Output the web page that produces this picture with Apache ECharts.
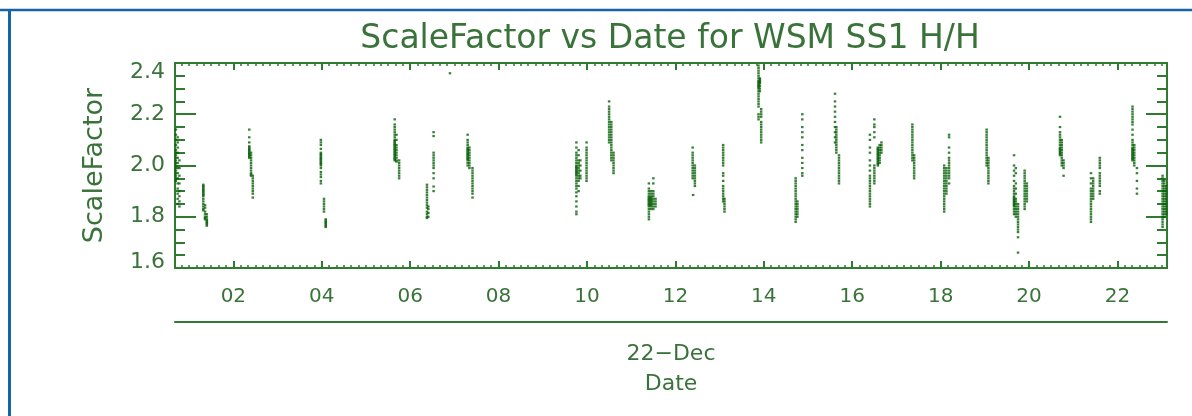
<!DOCTYPE html>
<html>
<head>
<meta charset="utf-8">
<script src="https://cdn.jsdelivr.net/npm/echarts@6/dist/echarts.min.js"></script>
<style>
html,body{margin:0;padding:0;background:#fff;}
#chart{width:1192px;height:416px;}
</style>
</head>
<body>
<div id="chart"></div>
<script>
// ---- Data (x = day of December 2022, fractional; y = ScaleFactor) ----
const titleText = 'ScaleFactor vs Date for WSM SS1 H/H';
const yName = 'ScaleFactor';
const xName = '22\u2212Dec\nDate';
const xTickLabels = ['02','04','06','08','10','12','14','16','18','20','22'];
const xTickDays = [2,4,6,8,10,12,14,16,18,20,22];
const yTickLabels = ['1.6','1.8','2.0','2.2','2.4'];

const streakDay = [
  0.70, 0.74, 0.78,
  1.32, 1.36, 1.40,
  2.36, 2.40, 2.44,
  3.98, 4.05, 4.09,
  5.65, 5.69, 5.75,
  6.38, 6.41, 6.53,
  6.90,
  7.30, 7.34, 7.41,
  9.76, 9.81, 9.85, 9.99,
  10.50, 10.55, 10.60,
  11.40, 11.45, 11.50, 11.55,
  12.39, 12.44, 12.40,
  13.08, 13.11,
  13.88, 13.91, 13.94,
  14.87, 14.72, 14.76,
  15.61, 15.64, 15.70,
  16.40, 16.50, 16.58, 16.62, 16.66,
  17.36, 17.40,
  18.08, 18.13, 18.19,
  19.04, 19.08,
  19.66, 19.70, 19.75, 19.90, 19.95,
  20.70, 20.74, 20.78,
  21.40, 21.45, 21.60,
  22.34, 22.38, 22.44,
  23.02, 23.06, 23.10
];
const streakValues = [
  [2.14,2.12,2.10,2.08,2.06,2.05,2.04,2.03,2.02,2.01,2.00,1.99,1.98,1.97,1.96,1.95,1.94],
  [2.11,2.09,2.07,2.05,2.03,2.01,1.99,1.97,1.95,1.93,1.91,1.89,1.87,1.85],
  [2.02,1.99,1.96,1.93,1.90,1.88,1.86,1.84],
  [1.925,1.92,1.915,1.91,1.905,1.90,1.895,1.89,1.885,1.88,1.87,1.86,1.85,1.84,1.83,1.825],
  [1.845,1.835,1.82,1.81,1.80,1.795,1.79],
  [1.81,1.80,1.79,1.785,1.78,1.775,1.77,1.765],
  [2.14,2.11,2.09,2.075,2.07,2.065,2.06,2.055,2.05,2.045,2.04,2.035,2.03],
  [2.05,2.04,2.03,2.02,2.01,2.00,1.99,1.98,1.97,1.965,1.96],
  [1.96,1.95,1.94,1.93,1.92,1.91,1.90,1.89,1.875],
  [2.10,2.09,2.08,2.065,2.05,2.045,2.04,2.035,2.03,2.025,2.02,2.015,2.01,2.005,2.00,1.99,1.975,1.965,1.955,1.94,1.93],
  [1.87,1.86,1.85,1.84,1.83,1.82],
  [1.79,1.785,1.78,1.775,1.77,1.765,1.76],
  [2.18,2.16,2.15,2.14,2.13,2.12,2.11,2.10,2.095,2.09,2.085,2.08,2.075,2.07,2.065,2.06,2.055,2.05,2.045,2.04,2.035,2.03,2.025,2.02],
  [2.12,2.10,2.08,2.07,2.06,2.05,2.04,2.03,2.02,2.015],
  [2.02,2.01,2.00,1.99,1.98,1.97,1.96,1.95],
  [1.925,1.915,1.905,1.895,1.885,1.875,1.865,1.855,1.845,1.835,1.82,1.81,1.80,1.795],
  [1.84,1.83,1.815,1.80],
  [2.13,2.115,2.05,2.04,2.03,2.02,2.01,2.00,1.99,1.97,1.95,1.918,1.90],
  [2.36],
  [2.12,2.10,2.09,2.08,2.07,2.065,2.06,2.055,2.05,2.045,2.04,2.035,2.03,2.025,2.02,2.01,2.00],
  [2.07,2.06,2.05,2.04,2.03,2.02,2.01,2.00,1.99],
  [1.99,1.98,1.97,1.96,1.95,1.94,1.93,1.92,1.91,1.90,1.89,1.875],
  [2.09,2.07,2.05,2.04,2.03,2.02,2.01,2.00,1.995,1.99,1.985,1.98,1.975,1.97,1.965,1.96,1.95,1.94,1.93,1.92,1.91,1.895,1.88,1.86,1.84,1.82,1.81],
  [2.06,2.04,2.02,2.01,2.00,1.99,1.98,1.97,1.96,1.95,1.94,1.92,1.90],
  [2.02,2.00,1.98,1.96,1.95],
  [2.09,2.07,2.06,2.05,2.04,2.03,2.02,2.01,2.00,1.99,1.98,1.97,1.96,1.95,1.94],
  [2.25,2.23,2.22,2.21,2.20,2.19,2.18,2.17,2.16,2.15,2.14,2.13,2.12,2.11,2.10,2.09],
  [2.17,2.16,2.15,2.14,2.13,2.12,2.11,2.10,2.09,2.08,2.07,2.06,2.05,2.04,2.03,2.02],
  [2.05,2.04,2.03,2.02,2.01,2.00,1.99,1.98,1.97],
  [1.93,1.91,1.90,1.89,1.88,1.875,1.87,1.865,1.86,1.855,1.85,1.845,1.84,1.83,1.82,1.81,1.80,1.79],
  [1.90,1.89,1.88,1.875,1.87,1.865,1.86,1.855,1.85,1.845,1.84,1.83],
  [1.95,1.93,1.90,1.89,1.88,1.87,1.86,1.85,1.84,1.83],
  [1.87,1.86,1.85,1.84],
  [2.07,2.05,2.04,2.03,2.02,2.01,2.00,1.99,1.98,1.97,1.96,1.95],
  [2.00,1.99,1.98,1.97,1.96,1.95,1.94,1.93,1.92],
  [1.885],
  [2.08,2.07,2.06,2.05,2.04,2.03,2.02,2.01,2.00,1.97,1.96,1.94,1.92,1.91,1.90,1.89,1.88,1.87,1.86],
  [1.87,1.86,1.85,1.84,1.83,1.82],
  [2.39,2.38,2.37,2.36,2.35,2.34,2.33,2.325,2.32,2.315,2.31,2.305,2.30,2.29,2.28,2.27,2.26,2.25,2.24,2.23,2.20,2.19,2.18],
  [2.34,2.335,2.33,2.325,2.32,2.31,2.30,2.29],
  [2.22,2.21,2.20,2.19,2.17,2.16,2.15,2.14,2.13,2.12,2.11,2.10,2.09],
  [2.20,2.18,2.15,2.13,2.11,2.08,2.06,2.03,2.01,1.99,1.97,1.96],
  [1.95,1.94,1.93,1.92,1.91,1.90,1.89,1.88,1.87,1.86,1.85,1.84,1.83,1.82,1.81,1.80,1.79,1.78],
  [1.86,1.85,1.84,1.83,1.82,1.81,1.80],
  [2.28,2.25,2.23,2.21,2.19,2.17,2.15,2.13,2.11,2.09],
  [2.15,2.14,2.13,2.12,2.11,2.10,2.09,2.08,2.07,2.06,2.05],
  [2.04,2.03,2.02,2.01,2.00,1.99,1.98,1.97,1.96,1.95,1.94,1.93],
  [2.12,2.10,2.07,2.05,2.02,2.00,1.98,1.96,1.95,1.94,1.93,1.92,1.91,1.90,1.89,1.88,1.87,1.86,1.85,1.84],
  [2.18,2.16,2.15,2.13,2.11,2.00,1.99,1.98,1.97,1.96,1.95,1.94,1.93],
  [2.07,2.065,2.06,2.055,2.05,2.045,2.04,2.035,2.03,2.025,2.02,2.015,2.01,2.005,2.00],
  [2.08,2.07,2.06,2.05,2.04,2.03,2.02,2.01],
  [2.09,2.08,2.07,2.06,2.05],
  [2.16,2.15,2.14,2.13,2.12,2.11,2.10,2.09,2.08,2.07,2.06,2.05,2.04,2.03,2.02],
  [2.04,2.03,2.02,2.01,2.00,1.99,1.98,1.97,1.96,1.95],
  [2.00,1.99,1.98,1.97,1.96,1.95,1.94,1.93,1.92,1.91,1.90,1.89,1.88,1.87,1.86,1.85,1.84,1.83,1.82],
  [1.99,1.98,1.97,1.96,1.95,1.94,1.93,1.92,1.91,1.90,1.89],
  [2.12,2.11,2.07,2.05,2.03,2.02,2.01,2.00,1.99,1.98,1.97,1.96,1.95,1.93],
  [2.14,2.13,2.12,2.11,2.10,2.09,2.08,2.07,2.06,2.05,2.04,2.03,2.02,2.01,2.00],
  [2.03,2.02,2.01,2.00,1.99,1.98,1.97,1.96,1.95,1.94,1.93],
  [2.04,2.00,1.98,1.96,1.94,1.92,1.91,1.90,1.89,1.88,1.875,1.87,1.865,1.86,1.855,1.85,1.845,1.84,1.83,1.82,1.81],
  [1.99,1.97,1.93,1.91,1.89,1.87,1.86,1.85,1.84,1.83,1.82,1.81,1.80],
  [1.85,1.84,1.83,1.82,1.81,1.80,1.79,1.78,1.77,1.76,1.75,1.74,1.72,1.66],
  [1.98,1.97,1.96,1.95,1.94,1.93,1.92,1.91,1.90,1.89,1.88,1.87,1.86,1.85,1.84,1.83],
  [1.93,1.92,1.91,1.90,1.89,1.88,1.87,1.86],
  [2.19,2.15,2.13,2.12,2.11,2.10,2.09,2.08,2.07,2.065,2.06,2.055,2.05,2.045,2.04],
  [2.10,2.09,2.08,2.07,2.06,2.05,2.04,2.03,2.02,2.01,2.00],
  [2.02,2.01,2.00,1.99,1.96],
  [1.97,1.95,1.93,1.91,1.90,1.89,1.88,1.87,1.86,1.85,1.84,1.83,1.82,1.81,1.80,1.79,1.78],
  [1.95,1.94,1.93,1.92,1.91,1.90,1.89,1.88,1.87],
  [2.03,2.02,2.01,2.00,1.99,1.97,1.96,1.95,1.94,1.93,1.92,1.90,1.89],
  [2.23,2.22,2.21,2.20,2.19,2.18,2.17,2.16,2.14,2.12,2.10,2.09,2.08,2.07,2.065,2.06,2.055,2.05,2.045,2.04,2.035,2.03,2.025,2.02],
  [2.08,2.07,2.06,2.05,2.04,2.03,2.02,2.01,2.00],
  [1.99,1.97,1.94,1.91,1.89],
  [1.96,1.95,1.94,1.93,1.92,1.91,1.90,1.89,1.88,1.87,1.86,1.85,1.84,1.83,1.82,1.81,1.80,1.79,1.78,1.77,1.76],
  [1.94,1.93,1.92,1.91,1.90,1.89,1.88,1.87,1.86,1.85,1.84,1.83,1.82,1.81,1.80],
  [1.92,1.91,1.90,1.89,1.88,1.87,1.86,1.85,1.84,1.83,1.82,1.81]
];

// ---- Build ----
const points = [];
streakDay.forEach((d, i) => streakValues[i].forEach(v => points.push([d, v])));

const X_MIN = 0.68, X_MAX = 23.12;
const minorDays = [];
for (let k = 5; k <= 138; k++) minorDays.push(k / 6);

const AXIS = '#2e7a2e';
const TEXT = '#3a733a';
const DOT = '#066006';
const FONT = 'DejaVu Sans';

const chart = echarts.init(document.getElementById('chart'), null, {renderer: 'canvas'});

function xAxisBase(extra) {
  return Object.assign({
    type: 'value', min: X_MIN, max: X_MAX, gridIndex: 0,
    splitLine: {show: false},
    axisLine: {show: false, onZero: false},
    axisTick: {show: false},
    axisLabel: {show: false}
  }, extra);
}
function yAxisBase(extra) {
  return Object.assign({
    type: 'value', min: 1.6, max: 2.4, interval: 0.2,
    splitLine: {show: false},
    axisLine: {show: true, onZero: false, lineStyle: {color: AXIS, width: 2}},
    axisTick: {show: true, inside: true, length: 21, lineStyle: {color: AXIS, width: 2}},
    minorTick: {show: true, splitNumber: 4, length: 10, lineStyle: {color: AXIS, width: 2}},
    minorSplitLine: {show: false}
  }, extra);
}

const option = {
  animation: false,
  backgroundColor: '#ffffff',
  grid: {left: 175, top: 63, width: 992, height: 205, containLabel: false},
  xAxis: [
    xAxisBase({
      position: 'bottom',
      axisLine: {show: true, onZero: false, lineStyle: {color: AXIS, width: 2}},
      axisTick: {show: true, inside: true, length: 3, customValues: minorDays, lineStyle: {color: AXIS, width: 1.5}},
      axisLabel: {show: true, customValues: xTickDays, margin: 19, color: TEXT, fontFamily: FONT, fontSize: 20,
        formatter: v => xTickLabels[xTickDays.indexOf(Math.round(v))] || ''}
    }),
    xAxisBase({
      position: 'bottom',
      axisTick: {show: true, inside: true, length: 7, customValues: xTickDays, lineStyle: {color: AXIS, width: 2}}
    }),
    xAxisBase({
      position: 'top',
      axisLine: {show: true, onZero: false, lineStyle: {color: AXIS, width: 2}},
      axisTick: {show: true, inside: true, length: 3, customValues: minorDays, lineStyle: {color: AXIS, width: 1.5}}
    }),
    xAxisBase({
      position: 'top',
      axisTick: {show: true, inside: true, length: 7, customValues: xTickDays, lineStyle: {color: AXIS, width: 2}}
    }),
    xAxisBase({
      position: 'bottom', offset: 54,
      axisLine: {show: true, onZero: false, lineStyle: {color: AXIS, width: 2}},
      name: xName, nameLocation: 'middle', nameGap: 17,
      nameTextStyle: {color: TEXT, fontFamily: FONT, fontSize: 22, lineHeight: 30}
    })
  ],
  yAxis: [
    yAxisBase({
      position: 'left',
      name: yName, nameLocation: 'middle', nameRotate: 90, nameGap: 67,
      nameTextStyle: {color: TEXT, fontFamily: FONT, fontSize: 27},
      axisLabel: {
        show: true, margin: 10, color: TEXT, fontFamily: FONT, fontSize: 22,
        formatter: v => {
          const s = yTickLabels[Math.round((v - 1.6) / 0.2)];
          if (v > 2.39) return '{t|' + s + '}';
          if (v < 1.61) return '{b|' + s + '}';
          return s;
        },
        rich: {
          t: {padding: [18, 0, 0, 0], color: TEXT, fontFamily: FONT, fontSize: 22},
          b: {padding: [0, 0, 12, 0], color: TEXT, fontFamily: FONT, fontSize: 22}
        }
      }
    }),
    yAxisBase({position: 'right', axisLabel: {show: false}})
  ],
  graphic: [
    {type: 'line', shape: {x1: 0, y1: 10, x2: 1192, y2: 10}, style: {stroke: '#1565a6', lineWidth: 2.5}, silent: true},
    {type: 'line', shape: {x1: 9.5, y1: 9, x2: 9.5, y2: 416}, style: {stroke: '#1565a6', lineWidth: 3}, silent: true},
    {type: 'text', x: 670, y: 39, style: {text: titleText, fill: TEXT, font: '33px "DejaVu Sans"', align: 'center', verticalAlign: 'middle'}, silent: true}
  ],
  series: [{
    type: 'scatter',
    xAxisIndex: 0, yAxisIndex: 0,
    symbol: 'rect', symbolSize: [2.5, 2.2],
    itemStyle: {color: DOT},
    data: points,
    silent: true
  }]
};
chart.setOption(option);
</script>
</body>
</html>
